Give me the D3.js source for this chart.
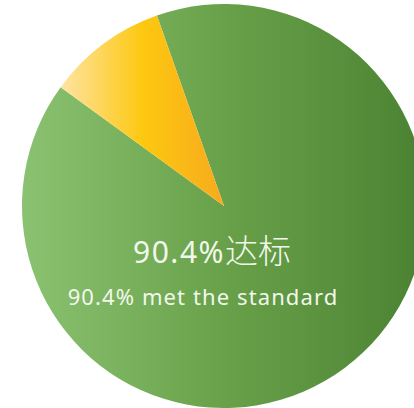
<!DOCTYPE html>
<html>
  <head>
    <meta charset="UTF-8">
    <style>
      body {
        margin: 0;
        background: #ffffff;
      }
      svg {
        display: block;
      }
      .label {
        fill: #f2f7ec;
        text-anchor: middle;
      }
    </style>
    <script src="https://d3js.org/d3.v7.min.js"></script>
  </head>
  <body>
    <svg id="pie-chart"></svg>

    <script type="text/javascript">
      let categories = ['达标', '未达标']
      let values = [90.4, 9.6]
      let labelPercent = '90.4%'
      let labelCn = '达标'
      let labelEn = '90.4% met the standard'

      let width = 414
      let height = 408
      let center = {x: 224, y: 206}
      let radius = 202
      let startDeg = -19.4

      let svg = d3.select('#pie-chart')
        .attr('width', width)
        .attr('height', height)

      let defs = svg.append('defs')

      // gradients live in the pie group's coordinates (origin = centre)
      function addGradient(id, x1, x2, stops) {
        let grad = defs.append('linearGradient')
          .attr('id', id)
          .attr('gradientUnits', 'userSpaceOnUse')
          .attr('x1', x1 - center.x).attr('x2', x2 - center.x)
          .attr('y1', 0).attr('y2', 0)
        grad.selectAll('stop')
          .data(stops)
          .join('stop')
            .attr('offset', d => d[0])
            .attr('stop-color', d => d[1])
      }

      addGradient('green-grad', center.x - radius, center.x + radius, [
        [0, '#8ac271'], [0.5, '#69a14a'], [1, '#4a8232']
      ])
      addGradient('yellow-grad', 62, 224, [
        [0, '#fee3a0'], [0.5, '#fdc810'], [1, '#f7aa1e']
      ])

      let fills = ['url(#green-grad)', 'url(#yellow-grad)']

      let pie = d3.pie()
        .sort(null)
        .value(d => d)
        .startAngle(startDeg * Math.PI / 180)
        .endAngle((startDeg + 360) * Math.PI / 180)

      let arc = d3.arc()
        .innerRadius(0)
        .outerRadius(radius)

      let g = svg.append('g')
        .attr('transform', `translate(${center.x}, ${center.y})`)

      g.selectAll('path')
        .data(pie(values))
        .join('path')
          .attr('d', arc)
          .attr('fill', (d, i) => fills[i])

      let line1 = svg.append('text')
        .attr('class', 'label')
        .attr('x', 212)
        .attr('y', 263)
        .attr('font-family', '"Noto Sans", "Noto Sans CJK SC", sans-serif')

      line1.append('tspan')
        .attr('font-size', 30)
        .attr('letter-spacing', 1.5)
        .text(labelPercent)

      line1.append('tspan')
        .attr('font-family', '"Noto Sans CJK SC", sans-serif')
        .attr('font-size', 33)
        .attr('font-weight', 300)
        .text(labelCn)

      svg.append('text')
        .attr('class', 'label')
        .attr('x', 203)
        .attr('y', 305)
        .attr('font-family', '"Noto Sans", sans-serif')
        .attr('font-size', 22)
        .attr('letter-spacing', 1.1)
        .text(labelEn)
    </script>
  </body>
</html>
